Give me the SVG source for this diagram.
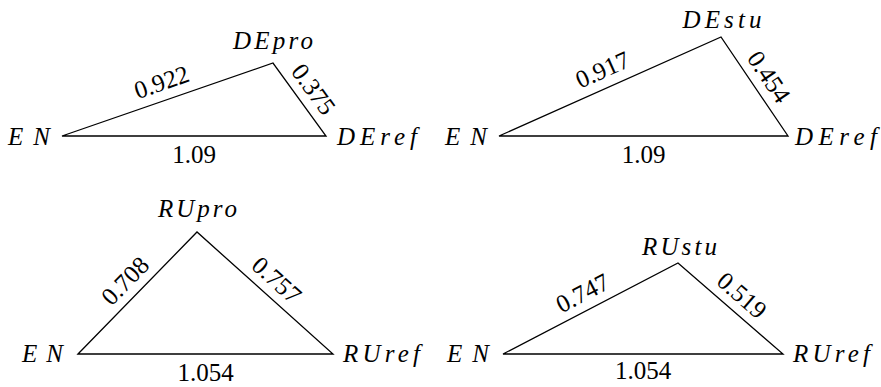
<svg xmlns="http://www.w3.org/2000/svg" width="881" height="387" viewBox="0 0 881 387">
  <style>
    .edge { fill: none; stroke: #000; stroke-width: 1.3; stroke-linejoin: miter; }
    .lbl { font-family: Liberation Serif, Tinos, DejaVu Serif, Noto Serif, Times New Roman, Times, serif; font-size: 25px; fill: #000; }
    .var { font-style: italic; }
    .num { text-anchor: middle; }
  </style>
  <rect width="881" height="387" fill="#fff"/>

  <!-- Triangle: EN / DEpro / DEref -->
  <g id="tri-de-pro">
    <g id="connectors-de-pro">
      <polygon class="edge" points="62,136 273,63 326,136"/>
    </g>
    <g id="node-de-pro-en"><text class="lbl var" x="50" y="145" text-anchor="end" textLength="42" lengthAdjust="spacing">EN</text></g>
    <g id="node-de-pro-pro"><text class="lbl var" x="273" y="49" text-anchor="middle" textLength="80" lengthAdjust="spacing">DEpro</text></g>
    <g id="node-de-pro-ref"><text class="lbl var" x="337" y="145" textLength="80" lengthAdjust="spacing">DEref</text></g>
    <text class="lbl num" transform="translate(167.5,99.5) rotate(-19.08)" y="-10">0.922</text>
    <text class="lbl num" transform="translate(299.5,99.5) rotate(54.02)" y="-9">0.375</text>
    <text class="lbl num" x="194" y="163">1.09</text>
  </g>

  <!-- Triangle: EN / DEstu / DEref -->
  <g id="tri-de-stu">
    <g id="connectors-de-stu">
      <polygon class="edge" points="499,136 721,37 788,136"/>
    </g>
    <g id="node-de-stu-en"><text class="lbl var" x="487" y="145" text-anchor="end" textLength="42" lengthAdjust="spacing">EN</text></g>
    <g id="node-de-stu-stu"><text class="lbl var" x="722" y="28" text-anchor="middle" textLength="79" lengthAdjust="spacing">DEstu</text></g>
    <g id="node-de-stu-ref"><text class="lbl var" x="795" y="145" textLength="82" lengthAdjust="spacing">DEref</text></g>
    <text class="lbl num" transform="translate(610,86.5) rotate(-24.04)" y="-10">0.917</text>
    <text class="lbl num" transform="translate(754.5,86.5) rotate(55.91)" y="-9">0.454</text>
    <text class="lbl num" x="643.5" y="163">1.09</text>
  </g>

  <!-- Triangle: EN / RUpro / RUref -->
  <g id="tri-ru-pro">
    <g id="connectors-ru-pro">
      <polygon class="edge" points="78,354 197,232 333,354"/>
    </g>
    <g id="node-ru-pro-en"><text class="lbl var" x="63" y="362" text-anchor="end" textLength="41" lengthAdjust="spacing">EN</text></g>
    <g id="node-ru-pro-pro"><text class="lbl var" x="197.5" y="217" text-anchor="middle" textLength="79" lengthAdjust="spacing">RUpro</text></g>
    <g id="node-ru-pro-ref"><text class="lbl var" x="343" y="362" textLength="77" lengthAdjust="spacing">RUref</text></g>
    <text class="lbl num" transform="translate(137.5,293) rotate(-45.71)" y="-9">0.708</text>
    <text class="lbl num" transform="translate(265,293) rotate(41.89)" y="-9">0.757</text>
    <text class="lbl num" x="205.5" y="381">1.054</text>
  </g>

  <!-- Triangle: EN / RUstu / RUref -->
  <g id="tri-ru-stu">
    <g id="connectors-ru-stu">
      <polygon class="edge" points="503,354 678,263 783,354"/>
    </g>
    <g id="node-ru-stu-en"><text class="lbl var" x="489" y="362" text-anchor="end" textLength="42" lengthAdjust="spacing">EN</text></g>
    <g id="node-ru-stu-stu"><text class="lbl var" x="679.5" y="255" text-anchor="middle" textLength="75" lengthAdjust="spacing">RUstu</text></g>
    <g id="node-ru-stu-ref"><text class="lbl var" x="793" y="362" textLength="77" lengthAdjust="spacing">RUref</text></g>
    <text class="lbl num" transform="translate(590.5,308.5) rotate(-27.47)" y="-9">0.747</text>
    <text class="lbl num" transform="translate(730.5,308.5) rotate(40.92)" y="-9">0.519</text>
    <text class="lbl num" x="643" y="379">1.054</text>
  </g>
</svg>
